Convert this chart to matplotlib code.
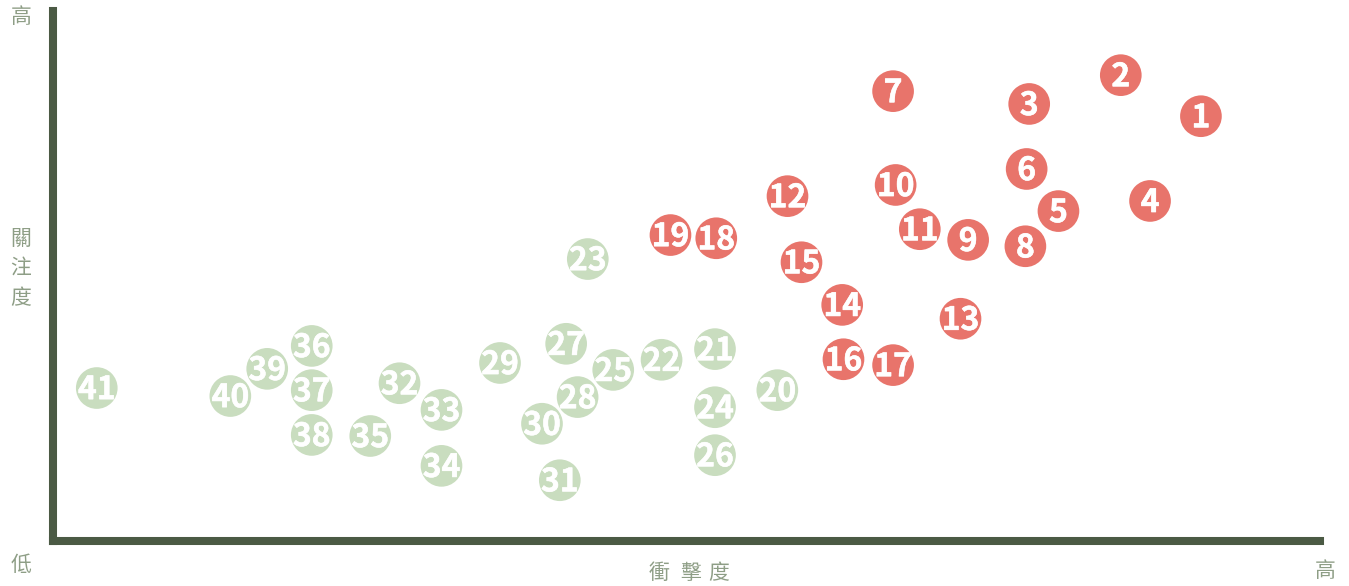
import matplotlib
matplotlib.use("Agg")
import matplotlib.pyplot as plt
import matplotlib.patheffects as pe

plt.rcParams['font.family'] = ['Noto Sans CJK TC', 'DejaVu Sans']

# 衝擊度 (x) 與 關注度 (y), 0-100
ids = list(range(1, 42))
impact = [90.4, 84.1, 76.9, 86.4, 79.2, 76.7, 66.2, 76.6, 72.1, 66.4,
          68.3, 57.9, 71.5, 62.2, 59.0, 62.3, 66.2, 52.3, 48.7, 57.1,
          52.2, 48.0, 42.2, 52.2, 44.2, 52.2, 40.5, 41.4, 35.3, 38.6,
          40.0, 27.4, 30.7, 30.7, 25.1, 20.5, 20.5, 20.5, 17.0, 14.1, 3.6]
attention = [79.7, 87.4, 82.0, 63.8, 61.9, 69.8, 84.4, 55.3, 56.5, 66.8,
             58.5, 64.7, 41.7, 44.3, 52.3, 34.1, 33.0, 56.8, 57.4, 28.3,
             36.0, 34.0, 52.9, 25.1, 32.1, 16.1, 37.0, 27.0, 33.4, 22.0,
             11.4, 29.6, 24.6, 14.1, 19.7, 36.6, 28.3, 19.9, 32.3, 27.2, 28.7]
n_high = 19  # 1-19 為紅色

red = '#E8746B'
green = '#C9DDBF'
axis_col = '#4B5A44'
label_col = '#8E9E86'

W, H = 1349, 586
fig = plt.figure(figsize=(W / 100, H / 100), dpi=100)
ax = fig.add_axes([53 / W, (H - 541) / H, (1320 - 53) / W, (541 - 11) / H])
ax.set_xlim(0.16, 99.76)
ax.set_ylim(0, 99.44)

for s in ['top', 'right']:
    ax.spines[s].set_visible(False)
for s in ['left', 'bottom']:
    ax.spines[s].set_linewidth(5.8)
    ax.spines[s].set_color(axis_col)
    ax.spines[s].set_capstyle('projecting')
ax.set_xticks([])
ax.set_yticks([])

colors = [red if i <= n_high else green for i in ids]
ax.scatter(impact, attention, s=900, c=colors, linewidths=0, clip_on=False, zorder=3)
for i, x, y in zip(ids, impact, attention):
    ax.annotate(str(i), (x, y), xytext=(0, -1.5), textcoords='offset points',
                ha='center', va='center', color='white',
                fontsize=23, fontweight='bold', zorder=4,
                path_effects=[pe.withStroke(linewidth=0.4, foreground='white')])

def ptext(px, py, s, **kw):
    fig.text(px / W, 1 - py / H, s, ha='center', va='center', color=label_col,
             fontsize=15, fontweight='light', **kw)

ptext(21, 17, '高')
ptext(21, 565, '低')
ptext(1325, 571, '高')
for py, ch in zip([239, 268, 298], '關注度'):
    ptext(21, py, ch)
for px, ch in zip([659, 691, 719], '衝擊度'):
    ptext(px, 573, ch)

fig.savefig('out.png', dpi=100, facecolor='white')
